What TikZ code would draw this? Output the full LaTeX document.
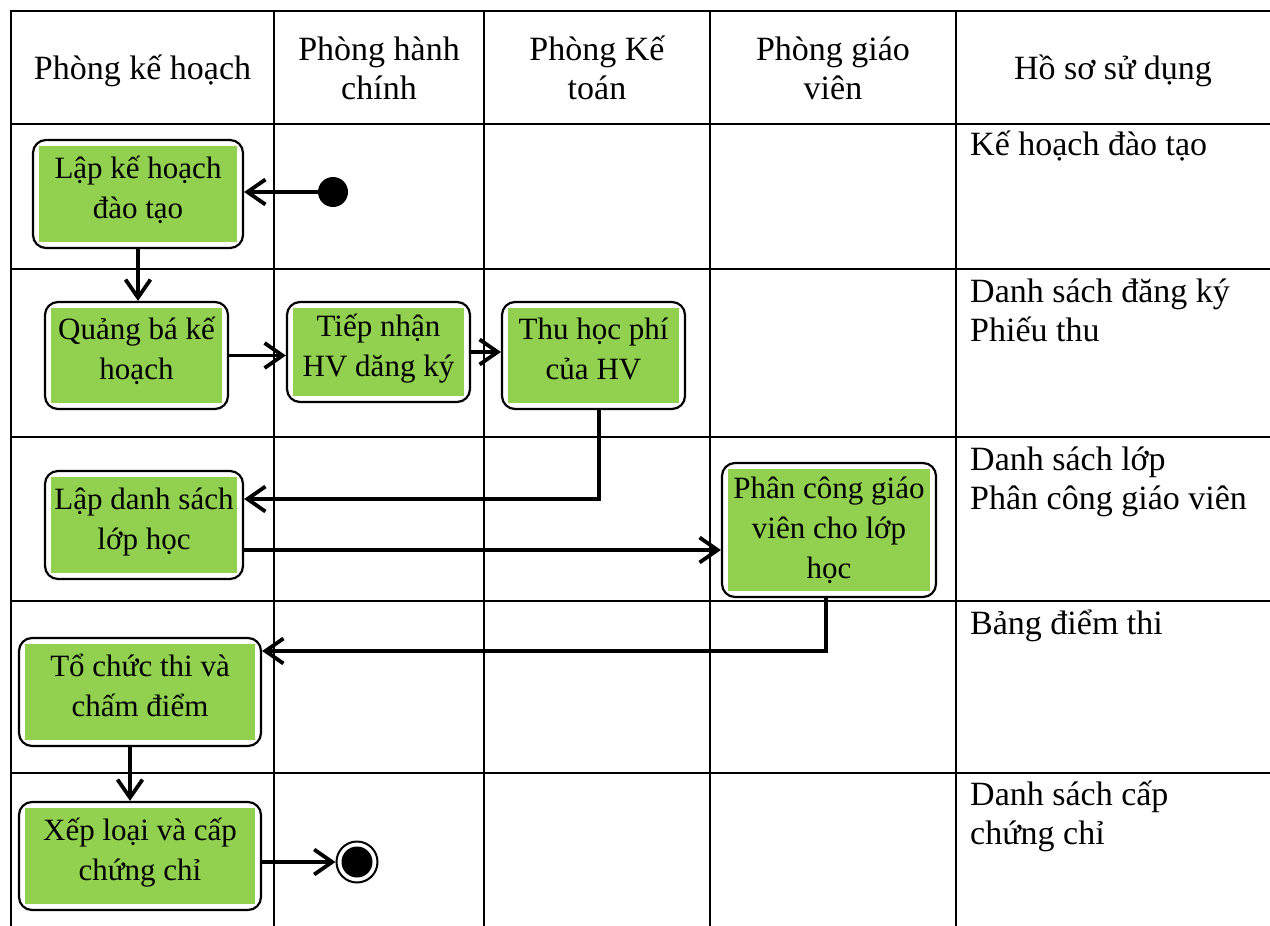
\documentclass[tikz,border=0pt]{standalone}
\usepackage{fontspec}
\setmainfont{Liberation Serif}
\usetikzlibrary{arrows.meta,calc}
\definecolor{actgreen}{HTML}{92D050}
% deeper bottom strut: lifts two-line activity labels a little
\newcommand\deepstrut{\rule[-20pt]{0pt}{1pt}}

\begin{document}
\begin{tikzpicture}[x=1pt,y=-1pt,
  txt/.style={font=\fontsize{34pt}{39pt}\selectfont, inner sep=0pt},
  grid/.style={line width=2.5pt, line cap=rect},
  activity/.style={font=\fontsize{31pt}{40pt}\selectfont, inner sep=0pt,
    draw, line width=2.2pt, rounded corners=13pt,
    fill=white, align=center,
    path picture={\fill[actgreen, sharp corners]
      ([shift={(6pt,6pt)}]path picture bounding box.south west) rectangle
      ([shift={(-6pt,-6pt)}]path picture bounding box.north east);}},
  flow/.style={line width=3.8pt, -{Straight Barb[length=18pt,width=25pt]}},
  header/.style={txt, align=center, anchor=north},
  record/.style={txt, align=left, anchor=north west},
  startdot/.style={circle, fill=black, minimum size=30pt, inner sep=0pt},
  enddot/.style={circle, draw, line width=2pt, minimum size=41pt, inner sep=0pt,
    path picture={\fill (path picture bounding box.center) circle (15.5pt);}}
]
\useasboundingbox (0,0) rectangle (1270,926);

% swimlane grid
\foreach \y in {11,124,269,437,601,773}
  \draw[grid] (11,\y) -- (1270,\y);
\foreach \x in {11,274,484,710,956}
  \draw[grid] (\x,11) -- (\x,926);

% lane headers
\node[header] (h1) at (142.5,51.7) {\strut Phòng kế hoạch};
\node[header] (h2) at (379,32.7) {\strut Phòng hành\\chính};
\node[header] (h3) at (597,32.7) {\strut Phòng Kế\\toán};
\node[header] (h4) at (833,32.7) {\strut Phòng giáo\\viên};
\node[header] (h5) at (1113,51.7) {\strut Hồ sơ sử dụng};

% documents used at each step
\node[record] (d1) at (970,127.7) {\strut Kế hoạch đào tạo};
\node[record] (d2) at (970,274.7) {\strut Danh sách đăng ký\\Phiếu thu};
\node[record] (d3) at (970,442.7) {\strut Danh sách lớp\\Phân công giáo viên};
\node[record] (d4) at (970,606.7) {\strut Bảng điểm thi};
\node[record] (d5) at (970,777.7) {\strut Danh sách cấp\\chứng chỉ};

% activities
\node[activity, minimum width=210pt, minimum height=108pt] (n1) at (138,194)
  {\strut Lập kế hoạch\\đào tạo\deepstrut};
\node[activity, minimum width=183pt, minimum height=107pt] (n2) at (136.5,355.5)
  {\strut Quảng bá kế\\hoạch\deepstrut};
\node[activity, minimum width=183pt, minimum height=100pt] (n3) at (378.5,352)
  {\strut Tiếp nhận\\HV dăng ký\deepstrut};
\node[activity, minimum width=183pt, minimum height=107pt] (n4) at (593.5,355.5)
  {\strut Thu học phí\\của HV\deepstrut};
\node[activity, minimum width=198pt, minimum height=108pt] (n5) at (144,525)
  {\strut Lập danh sách\\lớp học\deepstrut};
\node[activity, minimum width=214pt, minimum height=134pt] (n6) at (829,530)
  {\strut Phân công giáo\\viên cho lớp\\học\strut};
\node[activity, minimum width=242pt, minimum height=108pt] (n7) at (140,692)
  {\strut Tổ chức thi và\\chấm điểm\deepstrut};
\node[activity, minimum width=242pt, minimum height=108pt] (n8) at (140,856)
  {\strut Xếp loại và cấp\\chứng chỉ\deepstrut};

% initial and final states
\node[startdot] (init) at (333,192) {};
\node[enddot] (fin) at (357,862) {};

% routing levels of the elbow connectors
\coordinate (y5) at (0,499);
\coordinate (y6) at (0,550);
\coordinate (y7) at (0,651);

% control flow
\draw[flow] (init) -- (init -| n1.east);
\draw[flow] (n1.south) -- (n1.south |- n2.north);
\draw[flow] (n2.east) -- (n2.east -| n3.west);
\draw[flow] (n3.east) -- (n3.east -| n4.west);
\draw[flow] ([xshift=5.5pt]n4.south) |- (n5.east |- y5);
\draw[flow] (n5.east |- y6) -- (n6.west |- y6);
\draw[flow] ([xshift=-3pt]n6.south) |- (n7.east |- y7);
\draw[flow] ([xshift=-10pt]n7.south) -- ([xshift=-10pt]n8.north);
\draw[flow] (n8.east |- fin) -- (fin);
\end{tikzpicture}
\end{document}
